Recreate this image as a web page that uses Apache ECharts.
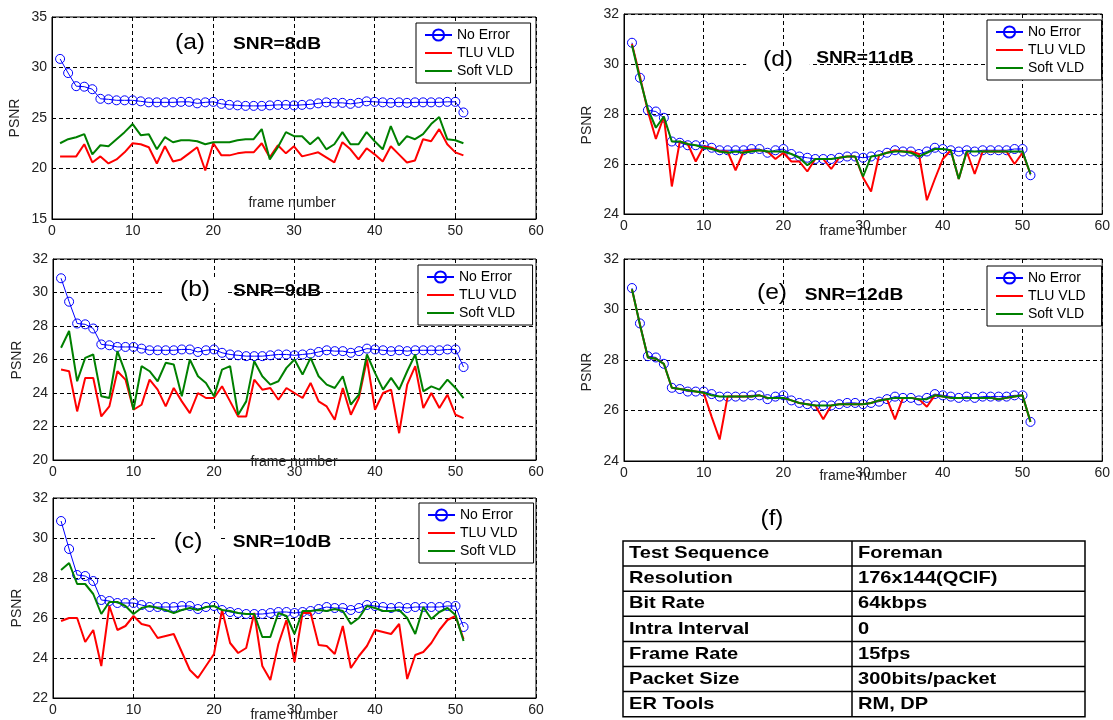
<!DOCTYPE html>
<html>
<head>
<meta charset="utf-8">
<script src="https://cdn.jsdelivr.net/npm/echarts@6/dist/echarts.min.js"></script>
<style>
  html, body { margin: 0; padding: 0; background: #fff; }
  #chart { width: 1113px; height: 720px; }
</style>
</head>
<body>
<div id="chart"></div>
<script>
// Frame index shared by every panel
const frames = [1,2,3,4,5,6,7,8,9,10,11,12,13,14,15,16,17,18,19,20,21,22,23,24,25,26,27,28,29,30,
  31,32,33,34,35,36,37,38,39,40,41,42,43,44,45,46,47,48,49,50,51];

// Error-free decoding PSNR (same reference curve in every panel)
const noError = [30.85,29.45,28.15,28.1,27.85,26.9,26.85,26.75,26.75,26.75,
  26.65,26.55,26.55,26.55,26.55,26.6,26.6,26.45,26.55,26.6,
  26.4,26.3,26.25,26.2,26.2,26.2,26.25,26.3,26.3,26.25,
  26.3,26.35,26.45,26.55,26.5,26.5,26.4,26.5,26.65,26.6,
  26.55,26.5,26.55,26.5,26.55,26.55,26.55,26.55,26.6,26.6,25.55];

// (a) SNR = 8 dB
const tluA = [21.2,21.2,21.2,22.4,20.6,21.2,20.5,20.9,21.6,22.5,
  22.4,22.1,20.5,22.2,20.7,20.9,21.5,22.1,19.8,22.5,
  21.3,21.3,21.5,21.6,21.6,22.5,21.1,22.3,21.5,22.2,
  21.2,21.4,21.6,21.1,20.6,22.6,21.9,20.9,22.0,21.4,
  20.7,22.2,21.4,20.6,20.8,22.9,22.7,23.9,22.4,21.6,21.3];
const softA = [22.5,22.9,23.1,23.4,21.4,22.3,22.2,22.9,23.6,24.4,
  23.3,23.4,21.9,23.1,22.6,22.8,22.8,22.7,22.4,22.6,
  22.6,22.6,22.8,22.9,22.9,23.9,20.9,22.1,23.6,23.2,
  23.2,22.4,23.1,21.9,22.4,23.6,22.4,22.4,23.6,22.7,
  21.9,24.2,22.3,23.2,22.9,23.4,24.4,25.1,22.9,22.8,22.5];

// (b) SNR = 9 dB
const tluB = [25.4,25.3,22.9,24.9,24.9,22.6,23.2,25.3,24.8,23.0,
  23.3,24.8,24.2,23.2,24.3,23.5,22.8,24.0,23.7,23.7,
  24.4,23.5,22.6,22.6,24.8,24.2,24.3,23.6,24.3,24.0,
  23.7,24.6,23.5,23.2,22.4,24.3,22.7,23.7,26.0,23.0,
  24.0,24.2,21.6,24.5,25.6,23.1,24.0,23.1,23.9,22.7,22.5];
const softB = [26.7,27.7,24.7,26.1,26.3,23.8,23.7,26.5,25.2,23.0,
  25.6,25.3,24.7,25.8,25.7,23.8,26.0,25.0,24.6,23.8,
  25.4,25.6,22.7,23.5,25.9,25.0,24.5,24.7,25.5,26.0,
  25.1,26.1,25.0,24.5,24.3,25.0,23.3,23.9,26.3,25.2,
  24.2,24.9,24.2,25.3,26.3,24.1,24.4,24.2,24.8,24.3,23.7];

// (c) SNR = 10 dB
const tluC = [25.85,26.0,26.0,24.8,25.4,23.6,26.6,25.4,25.6,26.1,
  25.7,25.6,25.0,25.1,25.2,24.3,23.4,23.0,23.6,24.2,
  26.4,24.75,24.25,24.5,26.25,23.6,22.9,24.7,25.9,23.8,
  26.25,26.25,24.65,24.6,24.2,25.6,23.5,24.1,24.6,25.4,
  25.3,25.2,25.7,22.95,24.15,24.3,24.75,25.4,25.9,26.1,24.95];
const softC = [28.4,28.75,27.7,27.7,27.2,26.2,26.8,26.8,26.6,26.2,
  26.5,26.6,26.5,26.4,26.25,26.4,26.5,26.4,26.55,26.6,
  26.4,26.35,26.25,26.2,26.2,25.05,25.05,26.25,26.1,25.2,
  26.35,26.35,26.4,26.35,26.45,26.35,25.7,26.0,26.6,26.5,
  26.35,26.35,26.4,26.0,25.2,26.55,25.95,26.3,26.5,26.15,24.85];

// (d) SNR = 11 dB
const tluD = [30.8,29.5,28.1,27.0,27.9,25.1,26.9,26.8,26.1,26.7,
  26.65,26.5,26.5,25.75,26.5,26.55,26.55,26.5,26.2,26.45,
  26.1,26.1,25.7,26.2,26.2,25.8,26.25,26.3,26.3,25.45,
  24.9,26.35,26.45,26.55,26.5,26.5,26.4,24.55,25.4,26.2,
  26.55,25.4,26.5,25.6,26.5,26.5,26.5,26.5,26.0,26.45,25.6];
const softD = [30.75,29.4,28.2,27.45,27.9,26.9,26.9,26.8,26.75,26.65,
  26.6,26.5,26.45,26.5,26.45,26.5,26.55,26.5,26.5,26.5,
  26.4,26.25,25.95,26.2,26.2,26.2,26.25,26.3,26.3,25.5,
  26.3,26.35,26.45,26.5,26.5,26.45,26.3,26.45,26.6,26.6,
  26.55,25.4,26.5,26.5,26.5,26.5,26.5,26.5,26.5,26.5,25.6];

// (e) SNR = 12 dB
const tluE = [30.8,29.4,28.1,28.05,27.85,26.9,26.85,26.8,26.75,26.7,
  25.75,24.85,26.55,26.55,26.55,26.55,26.6,26.5,26.5,26.5,
  26.4,26.3,26.25,26.2,25.65,26.2,26.25,26.25,26.25,26.25,
  26.3,26.4,26.45,25.65,26.5,26.5,26.45,26.15,26.6,26.55,
  26.5,26.5,26.5,26.5,26.5,26.5,26.45,26.5,26.55,26.6,25.55];
const softE = [30.8,29.4,28.1,28.05,27.85,26.9,26.85,26.8,26.75,26.7,
  26.6,26.55,26.55,26.55,26.55,26.55,26.6,26.5,26.5,26.5,
  26.4,26.3,26.25,26.2,26.2,26.2,26.25,26.25,26.25,26.25,
  26.3,26.4,26.45,26.5,26.5,26.5,26.45,26.45,26.6,26.55,
  26.5,26.5,26.5,26.5,26.5,26.5,26.45,26.5,26.55,26.6,25.55];

// Axis ranges and tick steps
const xTicks = { min: 0, max: 60, interval: 10 };
const yRanges = [
  { min: 15, max: 35, interval: 5 },
  { min: 20, max: 32, interval: 2 },
  { min: 22, max: 32, interval: 2 },
  { min: 24, max: 32, interval: 2 },
  { min: 24, max: 32, interval: 2 }
];
const panelTags = ['(a)', '(b)', '(c)', '(d)', '(e)'];
const snrTitles = ['SNR=8dB', 'SNR=9dB', 'SNR=10dB', 'SNR=11dB', 'SNR=12dB'];
const seriesNames = ['No Error', 'TLU VLD', 'Soft VLD'];

// Settings table (f)
const tableLabels = ['Test Sequence', 'Resolution', 'Bit Rate', 'Intra Interval', 'Frame Rate', 'Packet Size', 'ER Tools'];
const tableValues = ['Foreman', '176x144(QCIF)', '64kbps', '0', '15fps', '300bits/packet', 'RM, DP'];

const tluAll = [tluA, tluB, tluC, tluD, tluE];
const softAll = [softA, softB, softC, softD, softE];

// ---- layout ----
const FONT = '"Liberation Sans", Arial, Helvetica, sans-serif';
const layout = [
  { grid: { left: 52, top: 17, width: 484, height: 202 }, legend: { left: 416, top: 23 },
    tag: [190, 43], snr: [277, 45], psnr: [15, 118], frame: [292, 203], tagBg: false, snrBg: false },
  { grid: { left: 53, top: 259, width: 483, height: 201 }, legend: { left: 418, top: 265 },
    tag: [195, 290], snr: [277, 292], psnr: [17, 360], frame: [294, 462], tagBg: true, snrBg: false },
  { grid: { left: 53, top: 498, width: 483, height: 200 }, legend: { left: 419, top: 503 },
    tag: [188, 542], snr: [282, 543], psnr: [17, 608], frame: [294, 715], tagBg: true, snrBg: true },
  { grid: { left: 624, top: 14, width: 480, height: 200 }, legend: { left: 987, top: 20 },
    tag: [778, 60], snr: [865, 59], psnr: [587, 125], frame: [863, 231], tagBg: true, snrBg: false },
  { grid: { left: 624, top: 259, width: 480, height: 202 }, legend: { left: 987, top: 266 },
    tag: [772, 293], snr: [854, 296], psnr: [587, 372], frame: [863, 476], tagBg: false, snrBg: false }
];

const grids = [], xAxes = [], yAxes = [], series = [], legends = [], graphics = [];

const toPairs = (vals) => frames.map((f, k) => [f, vals[k]]);

// legend entries: marker + line for the reference curve, plain lines for the decoders
const legendItems = [
  { name: seriesNames[0] },
  { name: seriesNames[1], itemStyle: { opacity: 0 }, lineStyle: { width: 2 } },
  { name: seriesNames[2], itemStyle: { opacity: 0 }, lineStyle: { width: 2 } }
];

layout.forEach((L, i) => {
  grids.push(Object.assign({ show: true, borderColor: '#000', borderWidth: 1, backgroundColor: '#fff' }, L.grid));

  const axisCommon = {
    axisLine: { show: true, onZero: false, lineStyle: { color: '#000', width: 1 } },
    axisTick: { show: true, inside: true, length: 4, lineStyle: { color: '#000' } },
    splitLine: { show: true, lineStyle: { color: '#000', width: 1, type: [4, 3] } },
    axisLabel: { color: '#222', fontSize: 14, fontFamily: FONT, margin: 5 }
  };
  xAxes.push(Object.assign({ type: 'value', gridIndex: i }, xTicks, axisCommon));
  yAxes.push(Object.assign({ type: 'value', gridIndex: i }, yRanges[i], axisCommon));

  series.push({
    name: seriesNames[0], type: 'line', xAxisIndex: i, yAxisIndex: i,
    data: toPairs(noError), symbol: 'circle', symbolSize: 9, showAllSymbol: true,
    lineStyle: { color: '#0000ff', width: 1 },
    itemStyle: { color: 'rgba(0,0,0,0)', borderColor: '#0000ff', borderWidth: 1 },
    emphasis: { disabled: true }, z: 2
  });
  series.push({
    name: seriesNames[1], type: 'line', xAxisIndex: i, yAxisIndex: i,
    data: toPairs(tluAll[i]), symbol: 'none',
    lineStyle: { color: '#ff0000', width: 2 }, itemStyle: { color: '#ff0000' },
    emphasis: { disabled: true }, z: 3
  });
  series.push({
    name: seriesNames[2], type: 'line', xAxisIndex: i, yAxisIndex: i,
    data: toPairs(softAll[i]), symbol: 'none',
    lineStyle: { color: '#008000', width: 2 }, itemStyle: { color: '#008000' },
    emphasis: { disabled: true }, z: 4
  });

  legends.push({
    data: legendItems, orient: 'vertical', left: L.legend.left, top: L.legend.top,
    itemWidth: 27, itemHeight: 14, itemGap: 4, padding: [5, 16, 5, 8],
    backgroundColor: '#fff', borderColor: '#000', borderWidth: 1, borderRadius: 0,
    selectedMode: false, z: 10,
    textStyle: { color: '#000', fontSize: 14, fontFamily: FONT }
  });

  // panel tag, SNR title, axis titles
  graphics.push({
    type: 'text', x: L.tag[0], y: L.tag[1], scaleX: 1.12, z: 100,
    style: { text: panelTags[i], font: '22px ' + FONT, fill: '#000', textAlign: 'center', textVerticalAlign: 'middle',
      backgroundColor: L.tagBg ? '#fff' : null, padding: L.tagBg ? [2, 15, 2, 15] : 0 }
  });
  graphics.push({
    type: 'text', x: L.snr[0], y: L.snr[1], scaleX: 1.2, z: 100,
    style: { text: snrTitles[i], font: 'bold 16px ' + FONT, fill: '#000', textAlign: 'center', textVerticalAlign: 'middle',
      backgroundColor: L.snrBg ? '#fff' : null, padding: L.snrBg ? [4, 6, 4, 6] : 0 }
  });
  graphics.push({
    type: 'text', x: L.psnr[0], y: L.psnr[1], rotation: Math.PI / 2, z: 100,
    style: { text: 'PSNR', font: '14px ' + FONT, fill: '#222', textAlign: 'center', textVerticalAlign: 'middle' }
  });
  graphics.push({
    type: 'text', x: L.frame[0], y: L.frame[1], z: 100,
    style: { text: 'frame number', font: '14px ' + FONT, fill: '#222', textAlign: 'center', textVerticalAlign: 'middle' }
  });
});

// ---- settings table (f) ----
const tbl = { left: 623, mid: 852, right: 1085, top: 541, rowH: 25.1 };
const nRows = tableLabels.length;
graphics.push({
  type: 'text', x: 772, y: 519, scaleX: 1.1, z: 100,
  style: { text: '(f)', font: '22px ' + FONT, fill: '#000', textAlign: 'center', textVerticalAlign: 'middle' }
});
graphics.push({
  type: 'rect', z: 100,
  shape: { x: tbl.left, y: tbl.top, width: tbl.right - tbl.left, height: tbl.rowH * nRows },
  style: { fill: '#fff', stroke: '#000', lineWidth: 1.5 }
});
graphics.push({
  type: 'line', z: 101,
  shape: { x1: tbl.mid, y1: tbl.top, x2: tbl.mid, y2: tbl.top + tbl.rowH * nRows },
  style: { stroke: '#000', lineWidth: 1.5 }
});
for (let r = 1; r < nRows; r++) {
  graphics.push({
    type: 'line', z: 101,
    shape: { x1: tbl.left, y1: tbl.top + tbl.rowH * r, x2: tbl.right, y2: tbl.top + tbl.rowH * r },
    style: { stroke: '#000', lineWidth: 1.5 }
  });
}
tableLabels.forEach((t, r) => {
  const cy = tbl.top + tbl.rowH * (r + 0.5);
  graphics.push({
    type: 'text', x: tbl.left + 6, y: cy, scaleX: 1.18, z: 102,
    style: { text: t, font: 'bold 17px ' + FONT, fill: '#000', textAlign: 'left', textVerticalAlign: 'middle' }
  });
  graphics.push({
    type: 'text', x: tbl.mid + 6, y: cy, scaleX: 1.18, z: 102,
    style: { text: tableValues[r], font: 'bold 17px ' + FONT, fill: '#000', textAlign: 'left', textVerticalAlign: 'middle' }
  });
});

const chart = echarts.init(document.getElementById('chart'), null, { renderer: 'canvas' });
chart.setOption({
  animation: false,
  backgroundColor: '#fff',
  textStyle: { fontFamily: FONT },
  grid: grids,
  xAxis: xAxes,
  yAxis: yAxes,
  legend: legends,
  series: series,
  graphic: { elements: graphics }
});
</script>
</body>
</html>
